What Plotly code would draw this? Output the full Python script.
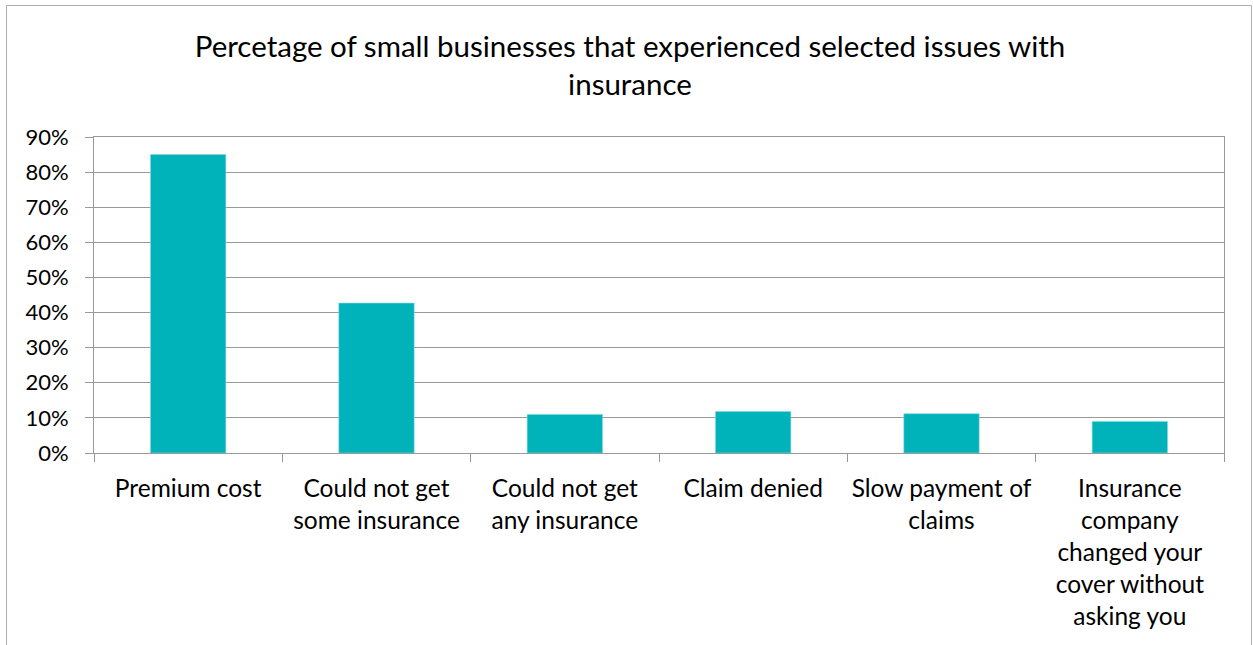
import plotly.graph_objects as go

# Survey results: share of small businesses reporting each insurance issue
categories = [
    "Premium cost",
    "Could not get<br>some insurance",
    "Could not get<br>any insurance",
    "Claim denied",
    "Slow payment of<br>claims",
    "Insurance<br>company<br>changed your<br>cover without<br>asking you",
]
shares = [0.85, 0.427, 0.110, 0.118, 0.112, 0.090]
y_ticks = [0, 0.1, 0.2, 0.3, 0.4, 0.5, 0.6, 0.7, 0.8, 0.9]

TEAL = "#00B2B9"
GRID = "#999999"
FONT = "Lato"

fig = go.Figure(
    go.Bar(
        x=categories,
        y=shares,
        marker=dict(color=TEAL, line=dict(color="#7FD8DC", width=0.6)),
        width=0.4,
    )
)

W, H = 1253, 645
L, R, T, B = 94, 29, 137, 192
pw, ph = W - L - R, H - T - B


def px_x(x):
    return (x - L) / pw


def px_y(y):
    return (H - B - y) / ph


fig.update_layout(
    width=W,
    height=H,
    margin=dict(l=L, r=R, t=T, b=B, pad=0),
    paper_bgcolor="white",
    plot_bgcolor="white",
    showlegend=False,
    font=dict(family=FONT, size=22, color="#000000"),
    title=dict(
        text="Percetage of small businesses that experienced selected issues with<br>insurance",
        x=px_x(630),
        xref="paper",
        xanchor="center",
        y=1 - 57 / H,
        yref="container",
        yanchor="top",
        font=dict(family=FONT, size=29.5, color="#000000"),
    ),
    bargap=0.6,
    xaxis=dict(
        type="category",
        showgrid=False,
        showline=True,
        linecolor=GRID,
        linewidth=1,
        mirror=True,
        ticks="outside",
        tickson="boundaries",
        ticklen=8,
        tickcolor=GRID,
        tickangle=0,
        ticklabelstandoff=14,
        tickfont=dict(family=FONT, size=24.5, color="#000000"),
    ),
    yaxis=dict(
        range=[0, 0.9],
        tickvals=y_ticks,
        tickformat=".0%",
        showgrid=True,
        gridcolor=GRID,
        gridwidth=1,
        showline=True,
        linecolor=GRID,
        linewidth=1,
        mirror=True,
        ticks="outside",
        ticklen=8,
        tickcolor=GRID,
        ticklabelstandoff=12,
        zeroline=False,
        tickfont=dict(family=FONT, size=22, color="#000000"),
        fixedrange=True,
    ),
    shapes=[
        dict(
            type="rect",
            xref="paper",
            yref="paper",
            x0=px_x(6.5),
            x1=px_x(1251.5),
            y0=px_y(5.5),
            y1=px_y(700),
            line=dict(color="#B0B0B0", width=1),
            fillcolor="rgba(0,0,0,0)",
            layer="below",
        )
    ],
)

fig.write_html("out.html")
